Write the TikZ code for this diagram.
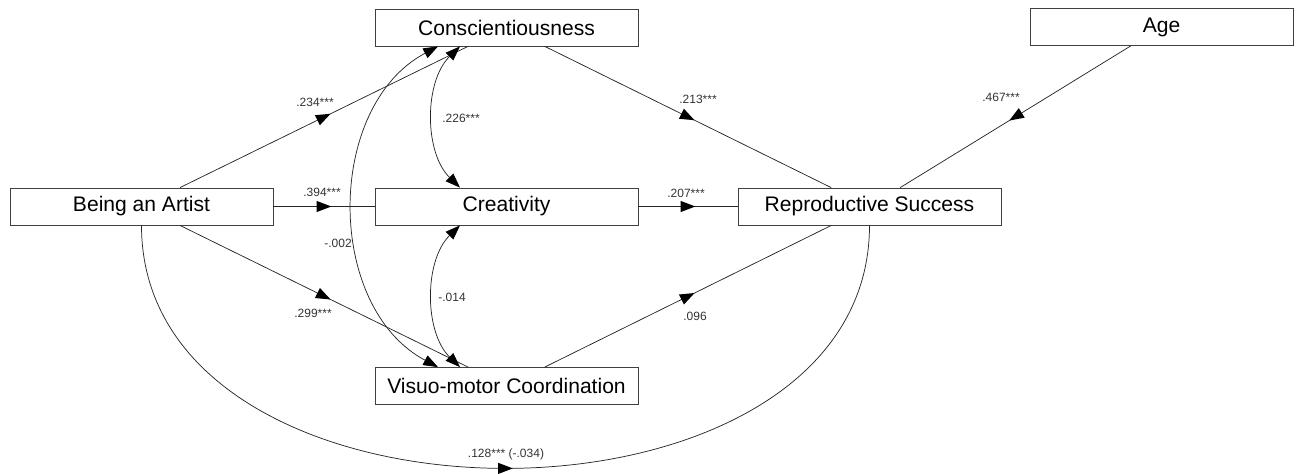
\documentclass[tikz,border=0pt]{standalone}
\usepackage{fontspec}
\setmainfont{Liberation Sans}
\usetikzlibrary{arrows.meta,decorations.markings,calc}
\begin{document}
\begin{tikzpicture}[x=0.75pt,y=-0.75pt,
  box/.style={draw=black!75, line width=0.6pt, minimum width=197.25pt, minimum height=27.75pt, inner sep=0pt, font=\fontsize{15.8}{18}\selectfont, text=black},
  lbl/.style={font=\fontsize{9}{10}\selectfont, text=black!80, inner sep=0pt},
  reg/.style={draw=black!85, line width=0.55pt, postaction={decorate},
    decoration={markings, mark=at position 0.5 with {\fill[black] (-5.5pt,-4.2pt) -- (5.5pt,0pt) -- (-5.5pt,4.2pt) -- cycle;}}},
  cov/.style={draw=black!85, line width=0.55pt, {Triangle[length=11pt,width=8pt,black]}-{Triangle[length=11pt,width=8pt,black]}}
]
\useasboundingbox (0,0) rectangle (1299,474);

\node[box] (consc)  at (506.5,27.5) {Conscientiousness};
\node[box] (age)    at (1161.5,27)  {Age};
\node[box] (artist) at (141.5,206.5) {Being an Artist};
\node[box] (creat)  at (506.5,206.5) {Creativity};
\node[box] (repro)  at (869.5,206.5) {Reproductive Success};
\node[box] (visuo)  at (506.5,386)   {Visuo-motor Coordination};

\draw[reg] (artist) -- (consc);
\draw[reg] (artist) -- (creat);
\draw[reg] (artist) -- (visuo);
\draw[reg] (creat) -- (repro);
\draw[reg] (consc) -- (repro);
\draw[reg] (age) -- (repro);
\draw[reg] (visuo) -- (repro);
\draw[reg] (artist.south) .. controls +(0,324) and +(0,324) .. (repro.south);

\draw[cov] ($(consc.south)+(-46.5,0)$) .. controls +(-36,35) and +(-36,-35) .. ($(creat.north)+(-46.5,0)$);
\draw[cov] ($(creat.south)+(-46.5,0)$) .. controls +(-36,35) and +(-36,-35) .. ($(visuo.north)+(-46.5,0)$);
\draw[cov] ($(consc.south)+(-68.5,0)$) .. controls +(-113,60) and +(-113,-60) .. ($(visuo.north)+(-68.5,0)$);

\node[lbl] at (315,102) {.234***};
\node[lbl] at (322,192) {.394***};
\node[lbl] at (313,313) {.299***};
\node[lbl] at (698,99)  {.213***};
\node[lbl] at (1001,97) {.467***};
\node[lbl] at (686,193) {.207***};
\node[lbl] at (695,316) {.096};
\node[lbl] at (461,118) {.226***};
\node[lbl] at (452,297) {-.014};
\node[lbl] at (338,243) {-.002};
\node[lbl] at (506,454) {.128*** (-.034)};
\end{tikzpicture}
\end{document}
